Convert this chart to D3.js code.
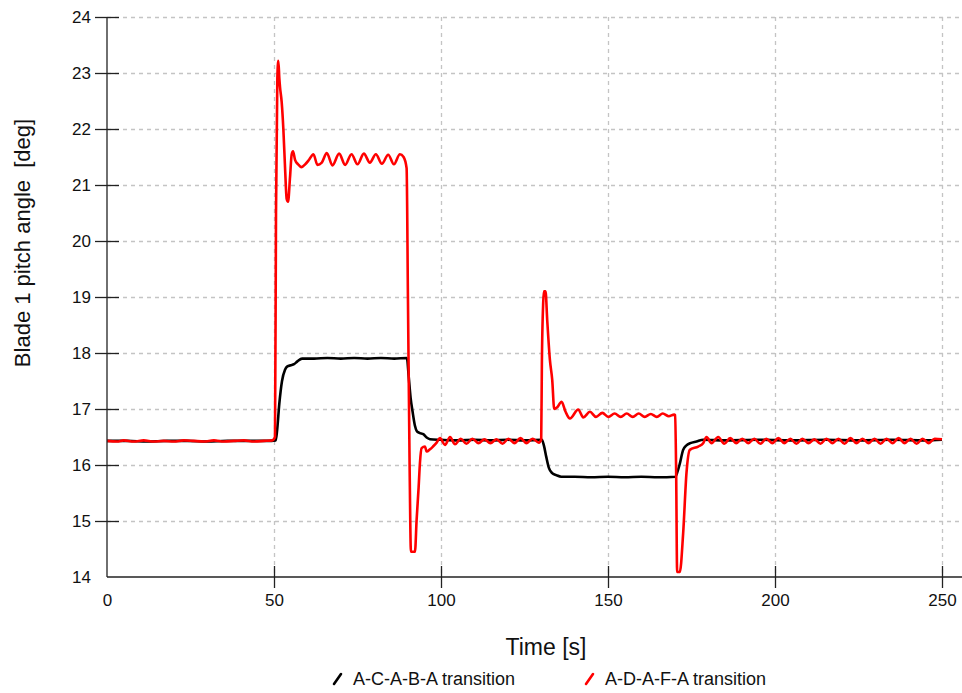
<!DOCTYPE html>
<html lang="en">
<head>
<meta charset="UTF-8">
<title>Blade 1 pitch angle</title>
<script src="https://d3js.org/d3.v7.min.js"></script>
<style>
  body { margin: 0; background: #fff; }
  text { font-family: "Liberation Sans", Arial, sans-serif; fill: #111; }
</style>
</head>
<body>
<script>
// tick values
var xTicks = [0, 50, 100, 150, 200, 250]
var yTicks = [14, 15, 16, 17, 18, 19, 20, 21, 22, 23, 24]

// A-C-A-B-A transition (black)
var acabaT = [0, 6, 12, 18, 24, 30, 36, 42, 48, 50.5, 50.9, 51.6, 52.4, 53.3, 54, 55, 56, 57, 58.4, 62, 66, 70, 74, 78, 82, 86, 89.8,
  90.3, 90.9, 91.5, 92.2, 92.8, 93.7, 94.7, 95.7, 96.7, 100, 105, 110, 115, 120, 125, 130.2,
  130.8, 131.5, 132.3, 133.2, 134.5, 136, 140, 145, 150, 155, 160, 165, 170.2,
  170.7, 171.4, 172.5, 173.5, 174.6, 176.5, 178.5, 185, 195, 205, 215, 225, 235, 245, 250]
var acabaV = [16.43, 16.43, 16.42, 16.43, 16.43, 16.42, 16.43, 16.43, 16.43, 16.44, 16.6, 17.1, 17.5, 17.7, 17.76, 17.78, 17.8, 17.85, 17.9, 17.9, 17.91, 17.9, 17.91, 17.9, 17.91, 17.9, 17.91,
  17.6, 17.2, 16.95, 16.7, 16.6, 16.57, 16.55, 16.49, 16.46, 16.45, 16.44, 16.45, 16.44, 16.45, 16.44, 16.45,
  16.35, 16.15, 15.95, 15.86, 15.82, 15.79, 15.79, 15.78, 15.79, 15.78, 15.79, 15.78, 15.79,
  15.86, 16.0, 16.27, 16.35, 16.39, 16.42, 16.45, 16.44, 16.45, 16.44, 16.45, 16.44, 16.45, 16.44, 16.45]

// A-D-A-F-A transition (red)
var adafaT = [0, 3, 5, 8, 11, 14, 17, 20, 23, 26, 29, 32, 35, 38, 41, 44, 47, 49.5, 50.3, 50.6, 51.0, 51.3, 51.6, 51.8, 52.3, 52.8, 53.3, 53.8, 54.2, 54.8, 55.3, 55.7, 56.3, 57.2, 58.2, 59.5, 60.5,
  61.8, 63.0, 64.3, 65.8, 67.5, 69.5, 71.3, 73.2, 75.0, 76.9, 78.7, 80.5, 82.3, 84.2, 85.9, 87.7, 88.8, 89.7,
  90.1, 90.6, 91.0, 92.2, 92.7, 93.3, 93.7, 94.2, 95.2, 95.7, 96.7, 97.6, 98.7, 99.7, 101.2, 102.7, 104.2, 105.9, 107.6, 109.4, 111.2, 113.0,
  114.8, 116.6, 118.4, 120.2, 122.0, 123.8, 125.6, 127.4, 129.3, 130.0,
  130.2, 130.6, 130.8, 131.3, 131.8, 132.6, 133.3, 133.9, 134.8, 136.1, 137.3, 138.6, 141.1, 142.6, 144.6, 146.4, 148.3, 150.1, 152.0,
  153.8, 155.6, 157.4, 159.2, 161.0, 162.8, 164.6, 166.4, 168.2, 169.8, 170.1,
  170.4, 170.7, 171.5, 172.5, 173.5, 174.5, 177.0, 178.5, 179.5, 181.0, 183.0, 184.8, 186.6, 188.4, 190.2, 192.0, 193.8, 195.6,
  197.4, 199.2, 201.0, 202.8, 204.6, 206.4, 208.2, 210.0, 211.8, 213.6, 215.4, 217.2, 219.0, 220.8, 222.6, 224.4, 226.2, 228.0,
  229.8, 231.6, 233.4, 235.2, 237.0, 238.8, 240.6, 242.4, 244.2, 246.0, 247.8, 250]
var adafaV = [16.43, 16.42, 16.44, 16.42, 16.44, 16.42, 16.43, 16.42, 16.44, 16.43, 16.42, 16.44, 16.42, 16.43, 16.44, 16.42, 16.43, 16.44, 16.5, 20.5, 22.9, 23.22, 22.9, 22.75, 22.48, 22.0, 21.32, 20.75, 20.7, 21.14, 21.55, 21.6, 21.45, 21.37, 21.32, 21.38, 21.45,
  21.55, 21.36, 21.4, 21.57, 21.35, 21.56, 21.36, 21.55, 21.37, 21.56, 21.40, 21.55, 21.38, 21.54, 21.37, 21.55, 21.5, 21.3,
  19.0, 16.0, 14.45, 14.45, 15.02, 15.6, 16.04, 16.3, 16.33, 16.24, 16.28, 16.33, 16.4, 16.48, 16.36, 16.5, 16.37, 16.47, 16.38, 16.47, 16.39, 16.46,
  16.39, 16.46, 16.38, 16.47, 16.39, 16.48, 16.39, 16.47, 16.40, 16.45,
  17.8, 18.9, 19.1, 19.1, 18.59, 17.88, 17.52, 17.0, 17.03, 17.13, 16.95, 16.83, 16.99, 16.85, 16.95, 16.86, 16.93, 16.86, 16.92,
  16.86, 16.92, 16.86, 16.92, 16.86, 16.91, 16.86, 16.92, 16.87, 16.9, 16.89,
  15.9, 14.09, 14.09, 14.78, 15.86, 16.27, 16.33, 16.39, 16.5, 16.39, 16.5, 16.38, 16.48, 16.39, 16.47, 16.39, 16.47, 16.38,
  16.47, 16.39, 16.48, 16.39, 16.47, 16.38, 16.47, 16.39, 16.46, 16.38, 16.47, 16.39, 16.47, 16.38, 16.48, 16.39, 16.47, 16.39,
  16.47, 16.38, 16.47, 16.39, 16.48, 16.39, 16.47, 16.38, 16.47, 16.39, 16.47, 16.46]

var series = [
  { name: "A-C-A-B-A transition", color: "#000000", t: acabaT, v: acabaV },
  { name: "A-D-A-F-A transition", color: "#ff0000", t: adafaT, v: adafaV }
]

var width = 962, height = 693
var svg = d3.select("body").append("svg")
  .attr("width", width)
  .attr("height", height)

var x = d3.scaleLinear().domain([0, 250]).range([107, 942])
var y = d3.scaleLinear().domain([14, 24]).range([577, 17])

// grid
svg.append("g").selectAll("line")
  .data(yTicks.filter(function (d) { return d > 14 }))
  .enter().append("line")
  .attr("x1", x(0)).attr("x2", width)
  .attr("y1", function (d) { return y(d) + 0.5 })
  .attr("y2", function (d) { return y(d) + 0.5 })
  .attr("stroke", "#c4c4c4").attr("stroke-width", 1.3).attr("stroke-dasharray", "4,4")
svg.append("g").selectAll("line")
  .data(xTicks.filter(function (d) { return d > 0 }))
  .enter().append("line")
  .attr("x1", function (d) { return x(d) + 0.5 })
  .attr("x2", function (d) { return x(d) + 0.5 })
  .attr("y1", y(24)).attr("y2", y(14))
  .attr("stroke", "#c4c4c4").attr("stroke-width", 1.3).attr("stroke-dasharray", "4,4")

// lines
var line = d3.line()
  .curve(d3.curveMonotoneX)
  .x(function (d) { return x(d[0]) })
  .y(function (d) { return y(d[1]) })
series.forEach(function (s) {
  svg.append("path")
    .datum(d3.zip(s.t, s.v))
    .attr("d", line)
    .attr("fill", "none")
    .attr("stroke", s.color)
    .attr("stroke-width", 2.6)
    .attr("stroke-linejoin", "round")
})

// axes
var yAxis = svg.append("g")
  .attr("transform", "translate(" + x(0) + ",0)")
  .call(d3.axisLeft(y).tickValues(yTicks).tickSize(12).tickPadding(4))
yAxis.select(".domain").remove()
yAxis.selectAll(".tick line").attr("x1", 12).attr("x2", -12)
  .attr("stroke", "#222").attr("stroke-width", 1.3)
  .style("display", function (d) { return d === 14 ? "none" : null })
yAxis.selectAll(".tick text").style("font-size", "17px").attr("fill", "#111")

var xAxis = svg.append("g")
  .attr("transform", "translate(0," + y(14) + ")")
  .call(d3.axisBottom(x).tickValues(xTicks).tickSize(11).tickPadding(6))
xAxis.select(".domain").remove()
xAxis.selectAll(".tick line").attr("y1", -11).attr("y2", 11)
  .attr("stroke", "#222").attr("stroke-width", 1.3)
  .style("display", function (d) { return d === 0 ? "none" : null })
xAxis.selectAll(".tick text").style("font-size", "17px").attr("fill", "#111")

svg.append("line")
  .attr("x1", x(0)).attr("x2", x(0)).attr("y1", y(24)).attr("y2", y(14))
  .attr("stroke", "#222").attr("stroke-width", 1.3)
svg.append("line")
  .attr("x1", x(0)).attr("x2", width).attr("y1", y(14)).attr("y2", y(14))
  .attr("stroke", "#222").attr("stroke-width", 1.3)

// titles
svg.append("text")
  .text("Time [s]")
  .attr("x", 546).attr("y", 655)
  .attr("text-anchor", "middle")
  .style("font-size", "23px")
svg.append("text")
  .text("Blade 1 pitch angle  [deg]")
  .attr("transform", "translate(30,243) rotate(-90)")
  .attr("text-anchor", "middle")
  .style("font-size", "22px")
  .style("white-space", "pre")

// legend
var legendX = [333, 585]
series.forEach(function (s, i) {
  var g = svg.append("g").attr("transform", "translate(" + legendX[i] + ",685)")
  g.append("line")
    .attr("x1", 1).attr("y1", -1).attr("x2", 8).attr("y2", -11)
    .attr("stroke", s.color).attr("stroke-width", 2.6).attr("stroke-linecap", "round")
  g.append("text")
    .text(s.name)
    .attr("x", 20).attr("y", 0)
    .style("font-size", "18px")
    .attr("fill", i === 1 ? "#ff0000" : "#111")
})
</script>
</body>
</html>
